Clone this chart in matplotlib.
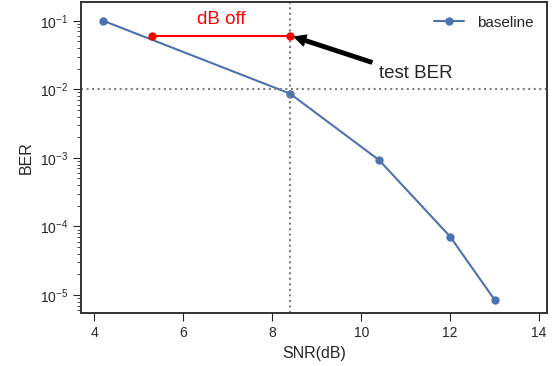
import matplotlib
matplotlib.use("Agg")
import matplotlib.pyplot as plt

snr = [4.2, 8.4, 10.4, 12.0, 13.0]
ber = [0.1, 0.00865, 9.3e-4, 7.1e-5, 8.5e-6]
off_x = [5.3, 8.4]
off_y = [0.061, 0.061]
target_snr = 8.4
target_ber = 0.01

plt.style.use("seaborn-v0_8-ticks")
plt.rcParams['font.family'] = ['Liberation Sans', 'DejaVu Sans']
plt.rcParams['axes.edgecolor'] = '.2'
plt.rcParams['axes.linewidth'] = 1.4

fig = plt.figure(figsize=(5.52, 3.66), dpi=100)
ax = fig.add_axes([0.147, 0.145, 0.844, 0.850])

ax.semilogy(snr, ber, 'o-', color='#4c72b0', markersize=5, linewidth=1.5, label='baseline')
ax.axvline(target_snr, color='gray', linestyle=':', linewidth=1.5)
ax.axhline(target_ber, color='gray', linestyle=':', linewidth=1.5)
ax.plot(off_x, off_y, 'o-', color='red', markersize=5, linewidth=1.5)
ax.text(sum(off_x) / 2, 0.104, 'dB off', color='red', fontsize=13.5, ha='center', va='center')
ax.annotate('test BER', xy=(off_x[1], off_y[0]), xytext=(10.4, 0.0148), fontsize=13.5,
            color='.15',
            arrowprops=dict(facecolor='black', edgecolor='black', shrink=0.05,
                            width=2.5, headwidth=8, headlength=8))

ax.set_xlim(3.7, 14.18)
ax.set_ylim(10 ** -5.263, 10 ** -0.723)
ax.set_xlabel('SNR(dB)', fontsize=11.5)
ax.set_ylabel('BER', fontsize=11.5)
ax.legend(loc='upper right', frameon=False, fontsize=11)

fig.savefig('out.png', dpi=100)
